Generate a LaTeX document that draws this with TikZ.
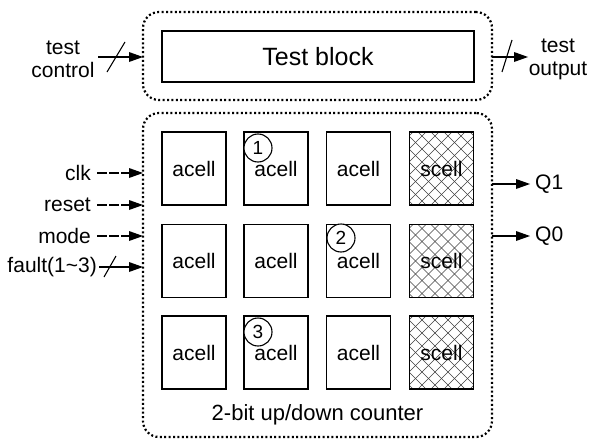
\documentclass[tikz,border=0pt]{standalone}
\usepackage{fontspec}
\setmainfont{Liberation Sans}

\begin{document}
\begin{tikzpicture}[x=1pt,y=-1pt,
  txt/.style={font=\fontsize{21}{23}\selectfont},
  cellbox/.style={draw,line width=1.2pt,minimum width=64pt,minimum height=73pt,inner sep=0pt,txt},
  scellbox/.style={cellbox,path picture={
      \foreach \d in {-104,-91,...,104}{
        \draw[black!75,line width=0.6pt]
          ([shift={(\d-45,-45)}]path picture bounding box.center) -- ++(90,90);
        \draw[black!75,line width=0.6pt]
          ([shift={(\d-45,45)}]path picture bounding box.center) -- ++(90,-90);
      }}},
  groupbox/.style={draw,line width=2.2pt,dash pattern=on 2pt off 2.4pt,rounded corners=16pt,inner sep=0pt},
  numcirc/.style={circle,draw,line width=1.1pt,minimum size=28pt,inner sep=0pt,fill=white,font=\fontsize{19}{19}\selectfont},
  sig/.style={txt,inner sep=0pt},
  wire/.style={line width=1.2pt},
  dwire/.style={wire,dash pattern=on 10pt off 2pt},
  slash/.style={line width=1.1pt},
  % filled arrow head pointing right, its point at the pic origin
  headR/.pic={\fill (0,0) -- (-14,-5) -- (-14,5) -- cycle;}
]
\useasboundingbox (0,0) rectangle (589,439);

% group outlines
\node[groupbox,minimum width=349pt,minimum height=88pt] (top) at (317.5,56) {};
\node[groupbox,minimum width=349pt,minimum height=324pt] (ctr) at (317.5,275) {};

% test block
\node[draw,line width=1.2pt,minimum width=312pt,minimum height=51pt,inner sep=0pt,
      font=\fontsize{25}{27}\selectfont] (tb) at (318,56.5) {Test block};

% cell array
\foreach \r/\y in {1/168.5,2/261,3/352.5}{
  \node[cellbox] (a\r1) at (194,\y) {acell};
  \node[cellbox] (a\r2) at (276,\y) {acell};
  \node[cellbox] (a\r3) at (358.5,\y) {acell};
  \node[scellbox] (s\r) at (441.5,\y) {scell};
}

% numbered markers
\node[numcirc] (m1) at (258,148) {1};
\node[numcirc] (m2) at (341,238) {2};
\node[numcirc] (m3) at (258,332) {3};

\node[font=\fontsize{22}{24}\selectfont] (cap) at (317.5,415) {2-bit up/down counter};

% ports on the group outlines and arrow ends
\coordinate (pTC) at (143,57);
\coordinate (pTO) at (492,57);
\coordinate (pClk) at (143,173);
\coordinate (pRst) at (143,205);
\coordinate (pMode) at (143,236);
\coordinate (pFlt) at (143,267);
\coordinate (pQ1) at (492,184);
\coordinate (pQ0) at (492,236);
\coordinate (eTO) at (528,57);
\coordinate (eQ1) at (530,184);
\coordinate (eQ0) at (530,236);

% test control input
\node[sig,align=center] (tc) at (63,59) {test\\control};
\coordinate (tcs) at (98,57);
\draw[wire] (tcs) -- ([xshift=-12pt]pTC);
\pic at (pTC) {headR};
\draw[slash] (107,72) -- (125,42);

% test output
\node[sig,align=center] (tout) at (558,59) {test\\output};
\draw[wire] (pTO) -- ([xshift=-12pt]eTO);
\pic at (eTO) {headR};
\draw[slash] (502,72) -- (512,40);

% counter inputs
\node[sig,anchor=east] (clk) at (91,173) {clk};
\node[sig,anchor=east] (rst) at (91,205) {reset};
\node[sig,anchor=east] (mode) at (91,236) {mode};
\node[sig,anchor=east] (flt) at (97,267) {fault(1\char126 3)};
\foreach \n/\p in {clk/pClk,rst/pRst,mode/pMode}{
  \draw[dwire] ([xshift=6pt]\n.east) -- ([xshift=-12pt]\p);
  \pic at (\p) {headR};
}
\draw[wire] ([xshift=2pt]flt.east) -- ([xshift=-12pt]pFlt);
\pic at (pFlt) {headR};
\draw[slash] (104,277) -- (116,256);

% counter outputs
\node[sig,anchor=west] (q1) at (535,184) {Q1};
\node[sig,anchor=west] (q0) at (535,236) {Q0};
\draw[wire] (pQ1) -- ([xshift=-12pt]eQ1);
\pic at (eQ1) {headR};
\draw[wire] (pQ0) -- ([xshift=-12pt]eQ0);
\pic at (eQ0) {headR};
\end{tikzpicture}
\end{document}
